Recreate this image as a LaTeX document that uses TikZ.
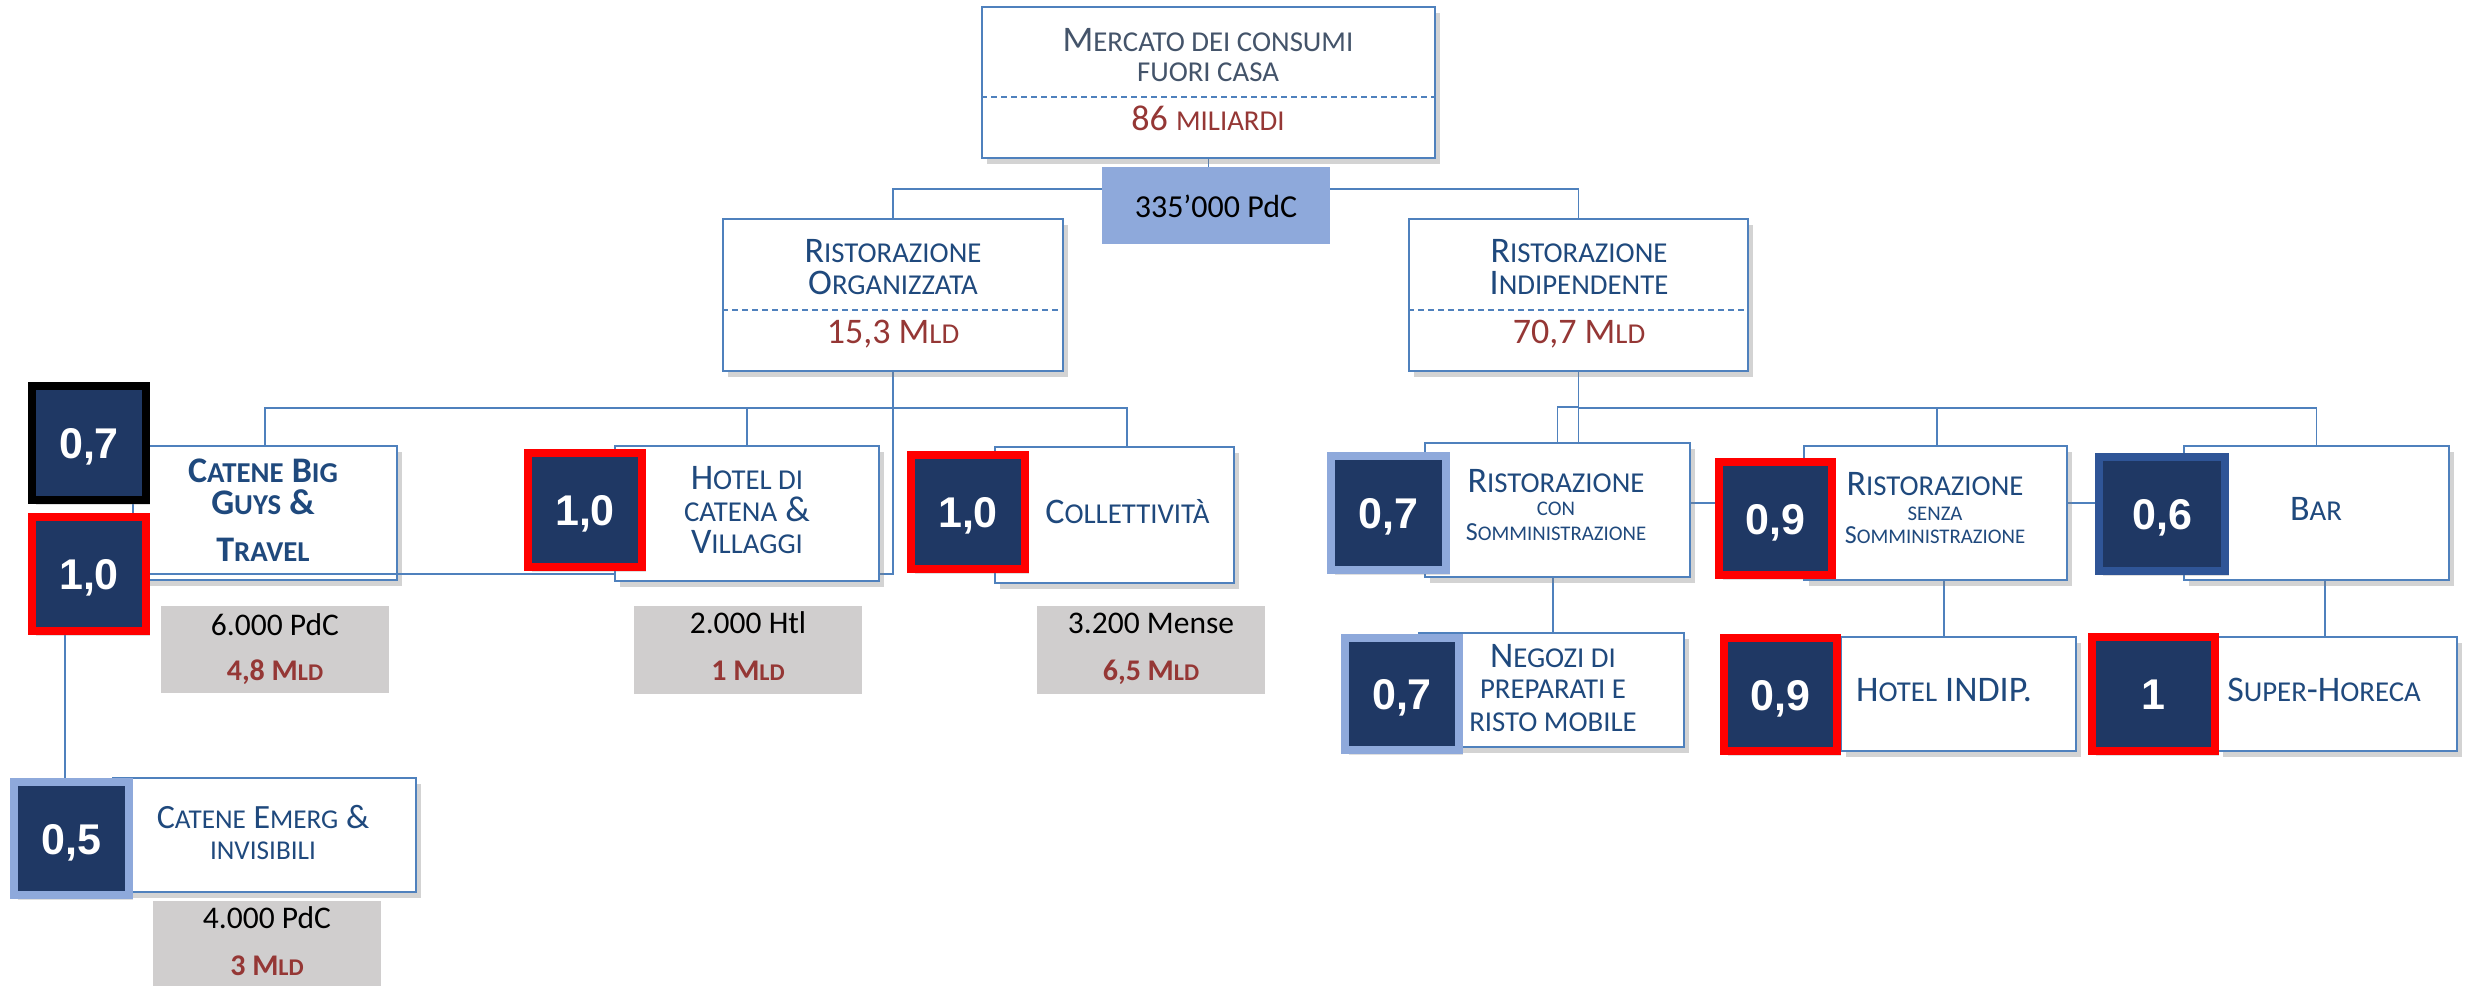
\documentclass[tikz,border=0pt]{standalone}
\usepackage{fontspec}
\setmainfont{Carlito}
\newfontfamily\numfont{Liberation Sans}
\usepackage{graphicx}
\usetikzlibrary{shadows}
\definecolor{boxblue}{HTML}{4F81BD}
\definecolor{navytxt}{HTML}{1F497D}
\definecolor{slatetxt}{HTML}{44546A}
\definecolor{valred}{HTML}{953735}
\definecolor{badgenavy}{HTML}{1F3864}
\definecolor{lightbd}{HTML}{8EA9DB}
\definecolor{barbd}{HTML}{2F5597}
\definecolor{pdcfill}{HTML}{8EA9DB}
\definecolor{grayfill}{HTML}{D0CECE}
\newcommand\sC[1]{\scalebox{0.8}{#1}}
\pgfdeclarelayer{connlayer}
\pgfdeclarelayer{boxlayer}
\pgfdeclarelayer{linklayer}
\pgfsetlayers{connlayer,boxlayer,linklayer,main}
\begin{document}
\begin{tikzpicture}[x=1pt,y=-1pt,
  box/.style={draw=boxblue, line width=2pt, fill=white, inner sep=0pt,
    drop shadow={shadow xshift=5pt, shadow yshift=-6pt, opacity=0.35}},
  pdc/.style={fill=pdcfill, inner sep=0pt},
  gbox/.style={fill=grayfill, inner sep=0pt},
  badge/.style={fill=badgenavy, line width=8pt, inner sep=0pt, text=white,
    font=\numfont\bfseries\fontsize{43}{46}\selectfont, text height=31pt, text depth=0pt,
    drop shadow={shadow xshift=4pt, shadow yshift=-5pt, opacity=0.25}},
  conn/.style={draw=boxblue, line width=1.8pt},
  divider/.style={draw=boxblue, line width=1.8pt, dash pattern=on 6pt off 4pt},
  lab/.style={anchor=base, inner sep=0pt, text=navytxt, font=\fontsize{36}{40}\selectfont},
  labb/.style={lab, font=\bfseries\fontsize{36}{40}\selectfont},
  labm/.style={lab, font=\fontsize{34}{38}\selectfont},
  labs/.style={lab, font=\fontsize{26}{30}\selectfont},
  val/.style={lab, text=valred},
  gtxt/.style={anchor=base, inner sep=0pt, text=black, font=\fontsize{31.5}{34}\selectfont},
  gval/.style={anchor=base, inner sep=0pt, text=valred, font=\bfseries\fontsize{30}{33}\selectfont}
]
\useasboundingbox (0,0) rectangle (2465,986);

% ---------- boxes ----------
\node[box, minimum width=453pt, minimum height=151pt] (T) at (1208.5,82.5) {};
\node[pdc, minimum width=228pt, minimum height=77pt] (P) at (1216,205.5) {};
\node[box, minimum width=340pt, minimum height=152pt] (RO) at (893,295) {};
\node[box, minimum width=339pt, minimum height=152pt] (RI) at (1578.5,295) {};
\begin{pgfonlayer}{boxlayer}
\node[box, minimum width=264pt, minimum height=134pt] (CB) at (265,513) {};
\end{pgfonlayer}
\node[box, minimum width=264pt, minimum height=135pt] (H) at (747,513.5) {};
\node[box, minimum width=239pt, minimum height=136pt] (C) at (1114.5,515) {};
\node[box, minimum width=303pt, minimum height=114pt] (E) at (264.5,835) {};
\node[box, minimum width=265pt, minimum height=134pt] (CS) at (1557.5,510) {};
\node[box, minimum width=263pt, minimum height=134pt] (SS) at (1935.5,513) {};
\node[box, minimum width=265pt, minimum height=134pt] (BR) at (2316.5,513) {};
\node[box, minimum width=265pt, minimum height=114pt] (NG) at (1551.5,690) {};
\node[box, minimum width=235pt, minimum height=114pt] (HI) at (1958.5,694) {};
\node[box, minimum width=239pt, minimum height=114pt] (SH) at (2337.5,694) {};

\node[gbox, minimum width=228pt, minimum height=87pt] (G1) at (275,649.5) {};
\node[gbox, minimum width=228pt, minimum height=88pt] (G2) at (748,650) {};
\node[gbox, minimum width=228pt, minimum height=88pt] (G3) at (1151,650) {};
\node[gbox, minimum width=228pt, minimum height=85pt] (G4) at (267,943.5) {};

% dividers
\draw[divider] ([yshift=-14.5pt]T.west) -- ([yshift=-14.5pt]T.east);
\draw[divider] ([yshift=-15pt]RO.west) -- ([yshift=-15pt]RO.east);
\draw[divider] ([yshift=-15pt]RI.west) -- ([yshift=-15pt]RI.east);

% ---------- texts ----------
\node[lab, text=slatetxt] (t1) at (1208,51.7) {M\sC{ERCATO DEI CONSUMI}};
\node[lab, text=slatetxt] (t2) at (1208,81.7) {\sC{FUORI CASA}};
\node[val] (t3) at (1208,130) {86 \sC{MILIARDI}};
\node[anchor=base, inner sep=0pt, font=\fontsize{32}{36}\selectfont] (t4) at (1216,217) {335’000 PdC};

\node[lab] (t5) at (893,262) {R\sC{ISTORAZIONE}};
\node[lab] (t6) at (893,294) {O\sC{RGANIZZATA}};
\node[val] (t7) at (893,343) {15,3 M\sC{LD}};
\node[lab] (t8) at (1579,262) {R\sC{ISTORAZIONE}};
\node[lab] (t9) at (1579,294) {I\sC{NDIPENDENTE}};
\node[val] (t10) at (1579,343) {70,7 M\sC{LD}};

\node[labb] (t11) at (263,482) {C\sC{ATENE} B\sC{IG}};
\node[labb] (t12) at (263,514) {G\sC{UYS} \&};
\node[labb] (t13) at (263,561) {T\sC{RAVEL}};
\node[lab] (t14) at (747,489) {H\sC{OTEL DI}};
\node[lab] (t15) at (747,521) {\sC{CATENA} \&};
\node[lab] (t16) at (747,553) {V\sC{ILLAGGI}};
\node[lab] (t17) at (1127.5,523) {C\sC{OLLETTIVITÀ}};
\node[labm] (t18) at (263,828) {C\sC{ATENE} E\sC{MERG} \&};
\node[labm] (t19) at (263,859) {\sC{INVISIBILI}};

\node[lab] (t20) at (1556,492) {R\sC{ISTORAZIONE}};
\node[labs] (t21) at (1556,515) {\sC{CON}};
\node[labs] (t22) at (1556,540) {S\sC{OMMINISTRAZIONE}};
\node[lab] (t23) at (1935,495) {R\sC{ISTORAZIONE}};
\node[labs] (t24) at (1935,520) {\sC{SENZA}};
\node[labs] (t25) at (1935,543) {S\sC{OMMINISTRAZIONE}};
\node[lab] (t26) at (2316,520) {B\sC{AR}};
\node[lab] (t27) at (1553,667) {N\sC{EGOZI DI}};
\node[lab] (t28) at (1553,698) {\sC{PREPARATI E}};
\node[lab] (t29) at (1553,731) {\sC{RISTO MOBILE}};
\node[lab] (t30) at (1944,701) {H\sC{OTEL} INDIP.};
\node[lab] (t31) at (2324,701) {S\sC{UPER}-H\sC{ORECA}};

\node[gtxt] (g1a) at (275,635) {6.000 PdC};
\node[gval] (g1b) at (275,680) {4,8 M\sC{LD}};
\node[gtxt] (g2a) at (748,633) {2.000 Htl};
\node[gval] (g2b) at (748,680) {1 M\sC{LD}};
\node[gtxt] (g3a) at (1151,633) {3.200 Mense};
\node[gval] (g3b) at (1151,680) {6,5 M\sC{LD}};
\node[gtxt] (g4a) at (267,928) {4.000 PdC};
\node[gval] (g4b) at (267,975) {3 M\sC{LD}};

% ---------- badges ----------
\node[badge, draw=black, minimum width=114pt, minimum height=114pt] (B07) at (89,443) {0,7};
\node[badge, draw=red, minimum width=114pt, minimum height=114pt] (B10) at (89,574) {1,0};
\node[badge, draw=red, minimum width=114pt, minimum height=114pt] (BH) at (585,510) {1,0};
\node[badge, draw=red, minimum width=114pt, minimum height=114pt] (BC) at (968,512) {1,0};
\node[badge, draw=lightbd, minimum width=115pt, minimum height=113pt] (BE) at (71.5,838.5) {0,5};
\node[badge, draw=lightbd, minimum width=115pt, minimum height=114pt] (BCS) at (1388.5,513) {0,7};
\node[badge, draw=red, minimum width=113pt, minimum height=113pt] (BSS) at (1775.5,518.5) {0,9};
\node[badge, draw=barbd, minimum width=126pt, minimum height=114pt] (BBR) at (2162,514) {0,6};
\node[badge, draw=lightbd, minimum width=114pt, minimum height=112pt] (BNG) at (1402,694) {0,7};
\node[badge, draw=red, minimum width=113pt, minimum height=113pt] (BHI) at (1780.5,694.5) {0,9};
\node[badge, draw=red, minimum width=123pt, minimum height=114pt] (BSH) at (2153.5,694) {1};

% ---------- connectors ----------
\begin{pgfonlayer}{connlayer}
\coordinate (Tbus) at (1208.5,189);
\draw[conn] (T.south) -- (Tbus);
\draw[conn] (RO.north) |- (Tbus) -| (RI.north);
\coordinate (RObus) at (893,408);
\draw[conn] (RO.south) -- (RObus);
\draw[conn] (CB.north) |- (RObus);
\draw[conn] (RObus) -| ([xshift=12.5pt]C.north);
\draw[conn] (H.north) -- (H.north |- RObus);
\coordinate (RIbus) at (1578.5,408);
\draw[conn] (RI.south) -- (RIbus) -| (BR.north);
\draw[conn] (RIbus) -| ([xshift=1.5pt]SS.north);
\draw[conn] (RIbus) -- (RIbus |- CS.north);
\draw[conn] (CS.north) -- ([yshift=1pt]CS.north |- RIbus) -- ([yshift=1pt]RIbus);
\draw[conn] ([yshift=7pt]CS.east) -- ([yshift=7pt]CS.east -| BSS.west);
\draw[conn] ([yshift=10pt]SS.east) -- ([yshift=10pt]SS.east -| BBR.west);
\draw[conn] ([xshift=-4.5pt]CS.south) -- ([xshift=-4.5pt]CS.south |- NG.north);
\draw[conn] ([xshift=8.5pt]SS.south) -- ([xshift=8.5pt]SS.south |- HI.north);
\draw[conn] ([xshift=8.5pt]BR.south) -- ([xshift=8.5pt]BR.south |- SH.north);
\draw[conn] ([xshift=-24pt]B10.south) -- ([xshift=-24pt]B10.south |- BE.north);
\end{pgfonlayer}
\begin{pgfonlayer}{linklayer}
\draw[conn] (RObus) -- (RObus |- B10.east) -- (B10.east);
\end{pgfonlayer}
\end{tikzpicture}
\end{document}
